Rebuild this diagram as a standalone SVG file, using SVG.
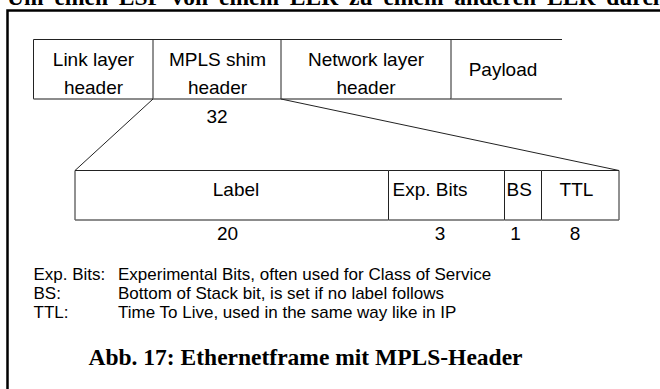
<svg xmlns="http://www.w3.org/2000/svg" width="660" height="389" viewBox="0 0 660 389">
<style>
.t{font-family:"Liberation Sans",Arial,sans-serif;font-size:19px;fill:#000}
.c{text-anchor:middle}
.lg{font-family:"Liberation Sans",Arial,sans-serif;font-size:17px;fill:#000}
.ttl{font-family:"Liberation Serif","Times New Roman",serif;font-weight:bold;font-size:23.5px;fill:#000}
.b{stroke:#222;stroke-width:1;fill:none}
.g{stroke:#666;stroke-width:1.5;fill:none}
.cn{stroke:#222;stroke-width:1;fill:none}
</style>
<rect width="660" height="389" fill="#fff"/>
<text class="ttl" x="7" y="5" word-spacing="5">Um einen LSP von einem LER zu einem anderen LER durch</text>
<path d="M7.5,389 V10.5 H660" stroke="#000" stroke-width="2.5" fill="none"/>

<g id="link-layer-header">
<path class="b" d="M33.5,99 V39.5 H153"/>
<path class="g" d="M33.5,99 H153"/>
<text class="t c" x="93.5" y="66">Link layer</text>
<text class="t c" x="93.5" y="94">header</text>
</g>
<g id="mpls-shim-header">
<path class="b" d="M153,99 V39.5 H281"/>
<path class="g" d="M153,99 H281"/>
<text class="t c" x="217.5" y="66">MPLS shim</text>
<text class="t c" x="217.5" y="94">header</text>
<text class="t c" x="217" y="123">32</text>
</g>
<g id="network-layer-header">
<path class="b" d="M281,99 V39.5 H451"/>
<path class="g" d="M281,99 H451"/>
<text class="t c" x="366" y="66">Network layer</text>
<text class="t c" x="366" y="94">header</text>
</g>
<g id="payload">
<path class="b" d="M451,99 V39.5 H562"/>
<path class="g" d="M451,99 H562"/>
<text class="t c" x="503" y="76">Payload</text>
</g>

<g id="connectors">
<line class="cn" x1="153" y1="99" x2="75" y2="170.5"/>
<line class="cn" x1="281" y1="99" x2="619" y2="170.5"/>
</g>

<g id="label-field">
<path class="b" d="M75,220 V170.5 H388.5"/>
<path class="g" d="M75,220 H388.5"/>
<text class="t c" x="236" y="196">Label</text>
<text class="t c" x="227.5" y="240">20</text>
</g>
<g id="exp-bits-field">
<path class="b" d="M388.5,220 V170.5 H504.5"/>
<path class="g" d="M388.5,220 H504.5"/>
<text class="t" x="392.5" y="196">Exp. Bits</text>
<text class="t c" x="440" y="240">3</text>
</g>
<g id="bs-field">
<path class="b" d="M504.5,220 V170.5 H541.5"/>
<path class="g" d="M504.5,220 H541.5"/>
<text class="t" x="506.5" y="196">BS</text>
<text class="t c" x="515.5" y="240">1</text>
</g>
<g id="ttl-field">
<path class="b" d="M541.5,220 V170.5 H619 V220"/>
<path class="g" d="M541.5,220 H619"/>
<text class="t c" x="576.5" y="196">TTL</text>
<text class="t c" x="575" y="240">8</text>
</g>

<g id="legend">
<text class="lg" x="33.5" y="279.5">Exp. Bits:</text>
<text class="lg" x="118" y="279.5">Experimental Bits, often used for Class of Service</text>
<text class="lg" x="33.5" y="298.5">BS:</text>
<text class="lg" x="118" y="298.5">Bottom of Stack bit, is set if no label follows</text>
<text class="lg" x="33.5" y="317.5">TTL:</text>
<text class="lg" x="118" y="317.5">Time To Live, used in the same way like in IP</text>
</g>

<g id="caption">
<text class="ttl" x="88.5" y="365">Abb. 17: Ethernetframe mit MPLS-Header</text>
</g>
</svg>
